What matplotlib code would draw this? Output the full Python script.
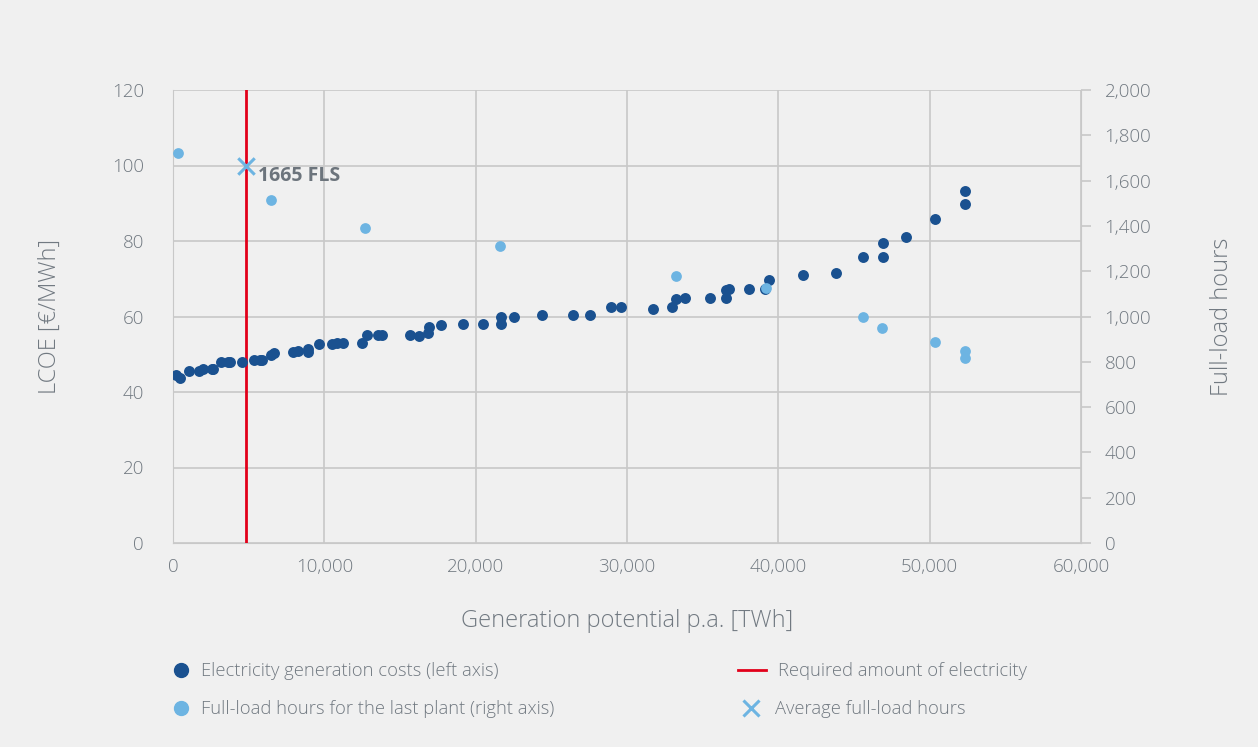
import matplotlib
matplotlib.use("Agg")
import matplotlib.pyplot as plt
from matplotlib.lines import Line2D
from matplotlib.ticker import FuncFormatter, MultipleLocator

# ---- data ----
x_costs = [200, 460, 1060, 1740, 2000, 2560, 2660, 3170, 3650, 3770, 4560,
           5350, 5750, 5900, 6480, 6690, 7950, 8280, 8940, 8940, 9670,
           10490, 10820, 11210, 12470, 12800, 13570, 13790, 15660, 16280,
           16870, 16920, 17700, 19180, 20500, 21670, 21670, 22510, 24400,
           26410, 27580, 28960, 29600, 31700, 33000, 33220, 33830, 35490,
           36540, 36540, 36740, 38060, 39150, 39360, 41610, 43830, 45600,
           46900, 46900, 48440, 50330, 52320, 52320]
y_costs = [44.5, 43.7, 45.6, 45.6, 46.2, 46.1, 46.1, 48.0, 48.0, 48.0, 48.0,
           48.5, 48.5, 48.5, 49.8, 50.4, 50.5, 50.9, 51.5, 50.6, 52.6,
           52.6, 53.1, 53.1, 53.1, 55.0, 55.1, 55.1, 55.1, 54.9,
           55.5, 57.2, 57.8, 57.9, 57.9, 57.9, 60.0, 59.9, 60.3,
           60.3, 60.3, 62.6, 62.6, 62.1, 62.6, 64.6, 64.9, 65.0,
           65.0, 67.0, 67.4, 67.4, 67.4, 69.7, 71.1, 71.5, 75.8,
           75.8, 79.5, 81.0, 85.7, 89.9, 93.2]

x_flh = [330, 6480, 12690, 21610, 33240, 39170, 45600, 46880, 50330, 52330, 52330]
y_flh = [1720, 1514, 1391, 1311, 1179, 1124, 999, 949, 887, 848, 817]

required_x = 4820
avg_x = [4820]
avg_flh = [1665]
avg_label = "1665 FLS"

legend_labels = ["Electricity generation costs (left axis)",
                 "Full-load hours for the last plant (right axis)",
                 "Required amount of electricity",
                 "Average full-load hours"]

# ---- style ----
BG = "#f0f0f0"
DARK = "#1a5190"
LIGHT = "#6db4e2"
RED = "#e2001a"
GRID = "#c8c8c8"
TXT = "#717981"
FONT = ["Open Sans", "DejaVu Sans"]

plt.rcParams["font.family"] = FONT

fig = plt.figure(figsize=(12.58, 7.47), dpi=100, facecolor=BG)
ax = fig.add_axes([173/1258, 1-543/747, (1081-173)/1258, (543-90)/747])
ax.set_facecolor(BG)
ax2 = ax.twinx()

ax.set_xlim(0, 60000)
ax.set_ylim(0, 120)
ax2.set_ylim(0, 2000)

ax.xaxis.set_major_locator(MultipleLocator(10000))
ax.yaxis.set_major_locator(MultipleLocator(20))
ax2.yaxis.set_major_locator(MultipleLocator(200))
ax.xaxis.set_major_formatter(FuncFormatter(lambda v, p: f"{int(v):,}"))
ax2.yaxis.set_major_formatter(FuncFormatter(lambda v, p: f"{int(v):,}"))

ax.grid(True, color=GRID, linewidth=1.2)
ax.set_axisbelow(True)

for a in (ax, ax2):
    for s in a.spines.values():
        s.set_visible(False)
ax.spines["left"].set_visible(True)
ax.spines["left"].set_color(GRID)
ax.spines["bottom"].set_visible(True)
ax.spines["bottom"].set_color(GRID)
ax2.spines["right"].set_visible(True)
ax2.spines["right"].set_color(GRID)

ax.tick_params(axis="y", length=0, pad=21, labelsize=13.5, labelcolor=TXT)
ax.tick_params(axis="x", length=0, pad=11, labelsize=13.5, labelcolor=TXT)
ax2.tick_params(axis="y", length=7, width=1.2, color=GRID, pad=10,
                labelsize=13.5, labelcolor=TXT)
for lab in ax.get_xticklabels() + ax.get_yticklabels() + ax2.get_yticklabels():
    lab.set_fontweight("light")

ax.set_xlabel("Generation potential p.a. [TWh]", fontsize=17, color=TXT,
              labelpad=23.5, fontweight="light")
ax.set_ylabel("LCOE [€/MWh]", fontsize=17, color=TXT, labelpad=36,
              fontweight="light")
ax2.set_ylabel("Full-load hours", fontsize=17, color=TXT, labelpad=42,
               rotation=90, fontweight="light")

ax.axvline(required_x, color=RED, linewidth=2, zorder=3)
ax.scatter(x_costs, y_costs, s=62, color=DARK, zorder=4, linewidths=0)
ax2.scatter(x_flh, y_flh, s=60, color=LIGHT, zorder=5, linewidths=0)
ax2.scatter(avg_x, avg_flh, marker="x", s=140, color=LIGHT, linewidths=2.2, zorder=6)
ax2.annotate(avg_label, (avg_x[0], avg_flh[0]), xytext=(9, -11),
             textcoords="offset points", fontsize=14, fontweight="bold",
             color="#6c747c")

# ---- legend (manual) ----
def fx(px):
    return px / 1258
def fy(py):
    return 1 - py / 747

fig.add_artist(Line2D([fx(181)], [fy(670)], marker="o", markersize=10,
                      color=DARK, linestyle="none", transform=fig.transFigure))
fig.add_artist(Line2D([fx(181)], [fy(708)], marker="o", markersize=10,
                      color=LIGHT, linestyle="none", transform=fig.transFigure))
fig.add_artist(Line2D([fx(738), fx(766)], [fy(670), fy(670)], color=RED,
                      linewidth=2, transform=fig.transFigure))
fig.add_artist(Line2D([fx(751)], [fy(708)], marker="x", markersize=11,
                      markeredgewidth=2.2, color=LIGHT, linestyle="none",
                      transform=fig.transFigure))
for px, py, t in [(201, 671, legend_labels[0]), (201, 709, legend_labels[1]),
                  (778, 671, legend_labels[2]), (775, 709, legend_labels[3])]:
    fig.text(fx(px), fy(py), t, fontsize=13.2, color=TXT, va="center",
             ha="left", fontweight="light")

fig.savefig("out.png", dpi=100, facecolor=BG)
